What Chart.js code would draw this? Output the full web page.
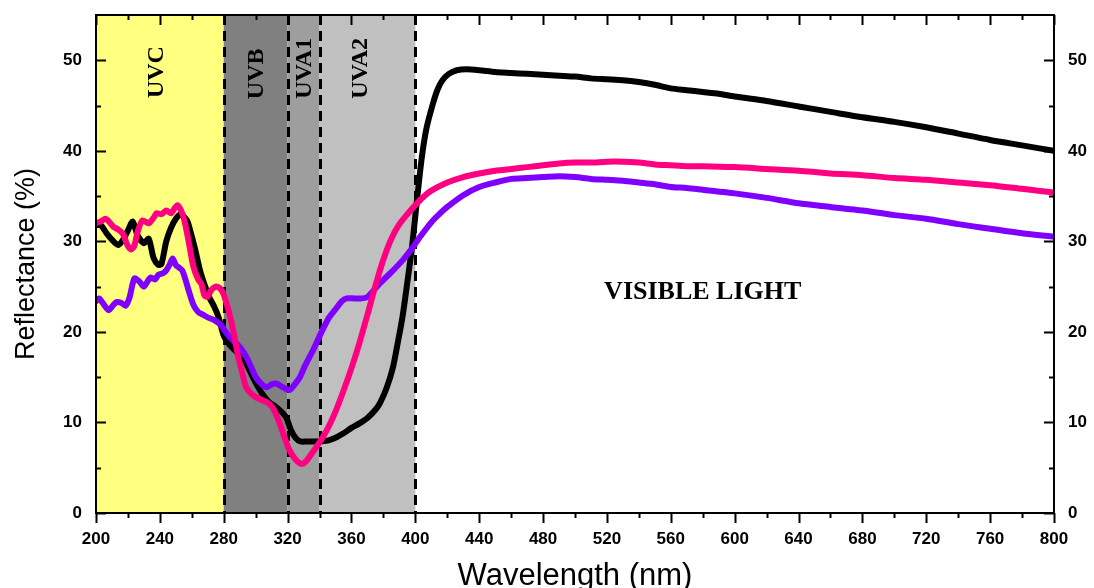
<!DOCTYPE html>
<html>
<head>
<meta charset="utf-8">
<script src="https://cdn.jsdelivr.net/npm/chart.js"></script>
<style>
  html, body { margin: 0; padding: 0; background: #fff; }
  #wrap { width: 1094px; height: 588px; }
</style>
</head>
<body>
<div id="wrap"><canvas id="chart" width="1094" height="588"></canvas></div>
<script>
// reflectance spectra

const blackNm = [200,203,207,211,214,217,220,223,226,230,233,236,239,241,244,247,250,253,257,259,262,265,268,271,274,277,280,284,288,292,296,300,304,308,312,316,319,322,325,328,332,336,340,345,350,355,360,365,370,375,378,382,386,389,392,395,398,401,404,407,411,414,417,421,426,432,440,450,460,470,480,490,500,510,520,530,540,550,560,570,580,590,600,620,640,660,680,700,720,740,760,780,800];
const blackR = [31.8,31.8,30.8,30.0,29.6,30.2,31.2,32.2,30.7,29.8,30.3,28.2,27.4,27.5,30.0,31.5,32.5,33.0,32.3,31.2,29.2,26.9,25.2,23.8,22.8,21.5,19.6,18.5,17.8,17.2,15.8,14.4,13.2,12.3,11.8,11.2,10.6,9.2,8.3,7.9,7.9,7.9,7.9,8.0,8.3,8.8,9.4,9.9,10.5,11.4,12.2,13.8,16.1,18.8,21.7,25.5,29.5,34.5,39.2,42.5,45.2,46.8,47.8,48.5,48.9,49.0,48.9,48.7,48.6,48.5,48.4,48.3,48.2,48.0,47.9,47.8,47.6,47.3,46.9,46.7,46.5,46.3,46.0,45.5,44.9,44.3,43.7,43.2,42.6,41.9,41.2,40.6,40.0];

const pinkNm = [200,203,206,209,211,214,217,219.6,222,224,226,229,233,236,238,241,244,247,249,251,254,256,258,261,264,266,268,270,272,275,277,279,281,284,287,289,292,294,297,300,305,309,312,315,318,321,325,329,332,336,340,345,350,355,360,365,370,375,380,385,390,395,400,405,410,420,430,440,450,460,470,480,490,500,510,520,530,540,550,560,570,580,600,620,640,660,680,700,720,740,760,780,800];
const pinkR = [32.0,32.2,32.5,32.0,31.6,31.3,30.8,29.6,29.1,29.5,31.0,32.3,32.0,32.6,33.1,33.0,33.4,33.1,33.6,34.0,33.1,31.8,30.0,27.2,25.8,25.3,24.0,23.9,24.6,25.0,24.9,24.5,23.6,21.7,19.2,17.3,15.2,13.9,13.2,12.8,12.4,12.0,11.2,9.9,8.4,7.0,5.9,5.4,5.8,6.8,7.8,9.3,11.2,13.5,16.0,18.8,21.9,25.1,28.0,30.3,31.9,33.0,34.0,34.9,35.6,36.5,37.1,37.5,37.8,38.0,38.2,38.4,38.6,38.7,38.7,38.8,38.8,38.7,38.5,38.4,38.3,38.3,38.2,38.0,37.8,37.5,37.3,37.0,36.8,36.5,36.2,35.8,35.4];

const purpleNm = [200,202,205,208,211,213,216,218.5,221,224,227,230,232,234,237,239,242,244,246,248,250,252,254,256,258,261,264,267,270,274,278,282,285,288,291,294,297,300,304,307,310,313,316,319,321.5,324,327.7,331,336,341,346,350,354,357,362,366,369.5,373,378,385,392,397,403,410,415,420,430,440,450,460,470,480,490,500,510,520,530,540,550,560,570,580,600,620,640,660,680,700,720,740,760,780,800];
const purpleR = [23.4,23.7,23.0,22.4,23.0,23.3,23.2,22.9,23.8,25.9,25.6,25.0,25.5,26.0,25.8,26.3,26.5,26.8,27.4,28.1,27.4,27.1,26.8,25.8,24.6,23.0,22.2,21.9,21.6,21.3,20.8,19.8,19.2,18.7,18.1,17.3,16.2,15.0,14.2,13.9,14.2,14.3,14.0,13.7,13.6,14.1,15.0,16.3,18.0,19.9,21.6,22.5,23.4,23.7,23.7,23.7,23.8,24.4,25.4,26.6,27.9,29.0,30.5,32.1,33.0,33.8,35.1,36.0,36.5,36.9,37.0,37.1,37.2,37.1,36.9,36.8,36.7,36.5,36.3,36.0,35.9,35.7,35.3,34.8,34.2,33.8,33.4,32.9,32.5,31.9,31.4,30.9,30.5];

// spectral bands (nm)
const bandEdges = [200, 280, 320, 340, 400];
const bandNames = ['UVC', 'UVB', 'UVA1', 'UVA2'];
const dashedAt = [280, 320, 340, 400];

const xTicks = [200,240,280,320,360,400,440,480,520,560,600,640,680,720,760,800];
const xMinor = [220,260,300,340,380,420,460,500,540,580,620,660,700,740,780];
const yTicks = [0,10,20,30,40,50];
const yMinor = [5,15,25,35,45];

const bandColors = ['#ffff80', '#808080', '#9e9e9e', '#c0c0c0'];
const sansFont = "'Liberation Sans', Arial, sans-serif";
const serifFont = "'Liberation Serif', 'Times New Roman', serif";

const toPoints = (xs, ys) => xs.map((x, i) => ({ x: x, y: ys[i] }));

const lineStyle = {
  borderWidth: 6,
  pointRadius: 0,
  tension: 0.25,
  borderJoinStyle: 'round',
  borderCapStyle: 'round',
  fill: false
};

// shaded UV bands, dashed separators, band labels
const bandsPlugin = {
  id: 'bands',
  beforeDatasetsDraw(chart) {
    const { ctx, chartArea, scales } = chart;
    const x = scales.x, y = scales.y;
    ctx.save();
    for (let i = 0; i < bandNames.length; i++) {
      const x0 = x.getPixelForValue(bandEdges[i]);
      const x1 = x.getPixelForValue(bandEdges[i + 1]);
      ctx.fillStyle = bandColors[i];
      ctx.fillRect(x0, chartArea.top, x1 - x0, chartArea.bottom - chartArea.top);
    }
    ctx.strokeStyle = '#000';
    ctx.lineWidth = 3;
    ctx.setLineDash([10, 6]);
    dashedAt.forEach(v => {
      const px = Math.round(x.getPixelForValue(v)) + 0.5;
      ctx.beginPath();
      ctx.moveTo(px, chartArea.top);
      ctx.lineTo(px, chartArea.bottom);
      ctx.stroke();
    });
    ctx.setLineDash([]);

    ctx.fillStyle = '#000';
    ctx.font = 'bold 24px ' + serifFont;
    ctx.textAlign = 'center';
    ctx.textBaseline = 'middle';
    const labelX = [238, 300.5, 330.5, 366];
    const labelY = [48.7, 48.5, 49.1, 49.1];
    bandNames.forEach((name, i) => {
      ctx.save();
      ctx.translate(x.getPixelForValue(labelX[i]), y.getPixelForValue(labelY[i]));
      ctx.rotate(-Math.PI / 2);
      ctx.fillText(name, 0, 0);
      ctx.restore();
    });

    ctx.font = 'bold 26px ' + serifFont;
    ctx.fillText('VISIBLE LIGHT', x.getPixelForValue(580), y.getPixelForValue(24.4));
    ctx.restore();
  },
  afterDraw(chart) {
    // frame and ticks (left/top/right inward, bottom outward)
    const { ctx, chartArea, scales } = chart;
    const x = scales.x, y = scales.y;
    const { left, right, top, bottom } = chartArea;
    ctx.save();
    ctx.strokeStyle = '#000';
    ctx.lineWidth = 2;
    ctx.strokeRect(left, top, right - left, bottom - top);
    ctx.beginPath();
    const tx = (vals, len) => vals.forEach(v => {
      const px = Math.round(x.getPixelForValue(v)) + 0.5;
      ctx.moveTo(px, bottom); ctx.lineTo(px, bottom + len);
      ctx.moveTo(px, top); ctx.lineTo(px, top + len);
    });
    const ty = (vals, len) => vals.forEach(v => {
      const py = Math.round(y.getPixelForValue(v)) + 0.5;
      ctx.moveTo(left, py); ctx.lineTo(left + len, py);
      ctx.moveTo(right, py); ctx.lineTo(right - len, py);
    });
    tx(xTicks, 10); tx(xMinor, 5);
    ty(yTicks, 10); ty(yMinor, 5);
    ctx.stroke();
    ctx.restore();
  }
};

const tickFont = { family: sansFont, size: 17, weight: 'bold' };
const noPad = s => { s.paddingTop = 0; s.paddingBottom = 0; s.paddingLeft = 0; s.paddingRight = 0; };

new Chart(document.getElementById('chart'), {
  type: 'line',
  data: {
    datasets: [
      Object.assign({ label: 'pink', data: toPoints(pinkNm, pinkR), borderColor: '#ff0080' }, lineStyle),
      Object.assign({ label: 'purple', data: toPoints(purpleNm, purpleR), borderColor: '#8000ff' }, lineStyle),
      Object.assign({ label: 'black', data: toPoints(blackNm, blackR), borderColor: '#000000' }, lineStyle)
    ]
  },
  plugins: [bandsPlugin],
  options: {
    responsive: false,
    animation: false,
    devicePixelRatio: 1,
    layout: { padding: { top: 15, left: 0, right: 0, bottom: 0 } },
    plugins: { legend: { display: false }, tooltip: { enabled: false } },
    scales: {
      x: {
        type: 'linear',
        min: 200, max: 800,
        afterBuildTicks: s => { s.ticks = xTicks.map(v => ({ value: v })); },
        afterFit: s => { s.height = 75; noPad(s); },
        grid: { display: false, drawTicks: false },
        border: { display: false },
        ticks: { color: '#000', font: tickFont, padding: 16, maxRotation: 0, autoSkip: false },
        title: {
          display: true, text: 'Wavelength (nm)', color: '#000',
          font: { family: sansFont, size: 31, lineHeight: 1 },
          padding: { top: 0, bottom: -4 }
        }
      },
      y: {
        position: 'left',
        min: 0, max: 55,
        afterBuildTicks: s => { s.ticks = yTicks.map(v => ({ value: v })); },
        afterFit: s => { s.width = 96; noPad(s); },
        grid: { display: false, drawTicks: false },
        border: { display: false },
        ticks: { color: '#000', font: tickFont, padding: 14 },
        title: {
          display: true, text: 'Reflectance (%)', color: '#000',
          font: { family: sansFont, size: 27, lineHeight: 1 },
          padding: { top: 13, bottom: 0 }
        }
      },
      y2: {
        position: 'right',
        min: 0, max: 55,
        afterBuildTicks: s => { s.ticks = yTicks.map(v => ({ value: v })); },
        afterFit: s => { s.width = 40; noPad(s); },
        grid: { display: false, drawTicks: false },
        border: { display: false },
        ticks: { color: '#000', font: tickFont, padding: 14 }
      }
    }
  }
});
</script>
</body>
</html>
